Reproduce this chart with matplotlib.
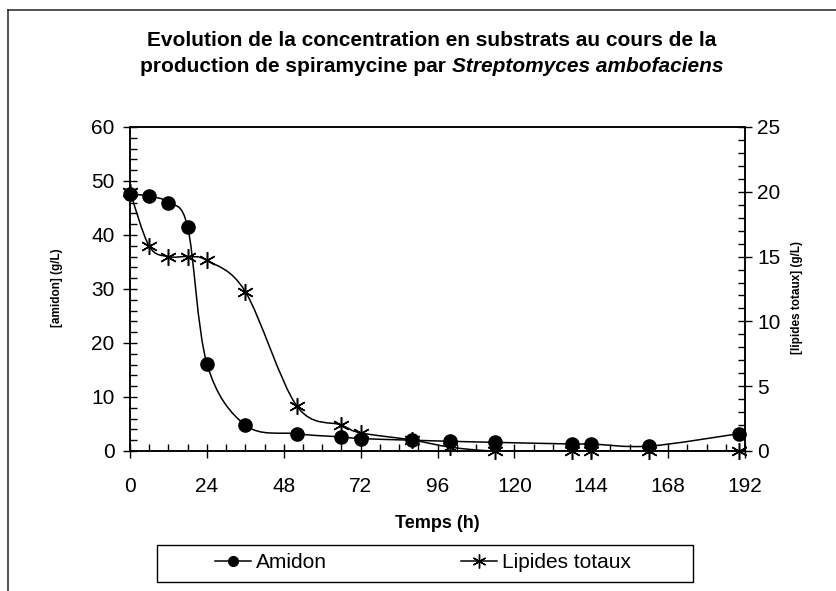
import numpy as np
import matplotlib
matplotlib.use('Agg')
import matplotlib.pyplot as plt
from matplotlib.path import Path
from matplotlib.patches import PathPatch, Rectangle
from matplotlib.lines import Line2D
from matplotlib.ticker import MultipleLocator

plt.rcParams['font.family'] = ['Liberation Sans', 'DejaVu Sans']

# time points (h)
temps = [0, 6, 12, 18, 24, 36, 52, 66, 72, 88, 100, 114, 138, 144, 162, 190]
# [amidon] g/L (left axis)
amidon = [47.6, 47.2, 46.0, 41.5, 16.2, 4.8, 3.2, 2.6, 2.3, 2.0, 1.8, 1.6, 1.3, 1.3, 0.9, 3.2]
# [lipides totaux] g/L (right axis)
lipides = [20.0, 15.8, 15.0, 15.0, 14.7, 12.3, 3.5, 2.0, 1.4, 0.85, 0.3, 0.0, 0.0, 0.0, 0.0, 0.0]

x_ticks = [0, 24, 48, 72, 96, 120, 144, 168, 192]
W, H = 836, 591


def smooth_path(x, y):
    # bezier path through the points, like the excel "smoothed line"
    pts = np.column_stack([x, y]).astype(float)
    n = len(pts)
    verts = [pts[0]]
    codes = [Path.MOVETO]
    for i in range(n - 1):
        p0 = pts[max(i - 1, 0)]
        p1 = pts[i]
        p2 = pts[i + 1]
        p3 = pts[min(i + 2, n - 1)]
        verts += [p1 + (p2 - p0) / 6, p2 - (p3 - p1) / 6, p2]
        codes += [Path.CURVE4] * 3
    return Path(verts, codes)


fig = plt.figure(figsize=(W / 100, H / 100), dpi=100)
ax = fig.add_axes([130 / W, 1 - 451 / H, 615 / W, 324 / H])
ax2 = ax.twinx()

ax.add_patch(PathPatch(smooth_path(temps, amidon), fill=False, lw=1.1, ec='black'))
ax.plot(temps, amidon, ls='none', marker='o', ms=9.5, color='black', clip_on=False, zorder=5)
ax2.add_patch(PathPatch(smooth_path(temps, lipides), fill=False, lw=1.1, ec='black'))
ax2.plot(temps, lipides, ls='none', marker=(6, 2, 0), ms=12, mew=1.1, color='black',
         clip_on=False, zorder=5)

ax.set_xlim(0, 192)
ax.set_ylim(0, 60)
ax2.set_ylim(0, 25)
ax.set_xticks(x_ticks)
ax.xaxis.set_minor_locator(MultipleLocator(6))
ax.yaxis.set_major_locator(MultipleLocator(10))
ax.yaxis.set_minor_locator(MultipleLocator(2))
ax2.yaxis.set_major_locator(MultipleLocator(5))
ax2.yaxis.set_minor_locator(MultipleLocator(1))

for a in (ax, ax2):
    for s in a.spines.values():
        s.set_linewidth(1.1)
ax.tick_params(axis='x', which='major', direction='inout', length=10, width=1,
               labelsize=15, pad=14)
ax.tick_params(axis='y', which='major', direction='inout', length=10, width=1,
               labelsize=15, pad=6)
ax.tick_params(which='minor', direction='in', length=5, width=1)
ax2.tick_params(axis='y', which='major', direction='inout', length=10, width=1,
                labelsize=15, pad=4)
ax2.tick_params(axis='y', which='minor', direction='in', length=5, width=1)

fig.text(57 / W, 1 - 288 / H, '[amidon] (g/L)', rotation=90, ha='center', va='center',
         fontsize=8.5, fontweight='bold')
fig.text(797 / W, 1 - 298 / H, '[lipides totaux] (g/L)', rotation=90, ha='center',
         va='center', fontsize=8.5, fontweight='bold')
fig.text(437 / W, 1 - 524 / H, 'Temps (h)', ha='center', va='center', fontsize=13,
         fontweight='bold')

# title, second line has the species name in italic
fig.text(432 / W, 1 - 41 / H, 'Evolution de la concentration en substrats au cours de la',
         ha='center', va='center', fontsize=15, fontweight='bold')
r = fig.canvas.get_renderer()
t1 = fig.text(0, 1 - 66 / H, 'production de spiramycine par ', ha='left', va='center',
              fontsize=15, fontweight='bold')
t2 = fig.text(0, 1 - 66 / H, 'Streptomyces ambofaciens', ha='left', va='center',
              fontsize=15, fontweight='bold', style='italic')
w1 = t1.get_window_extent(r).width
w2 = t2.get_window_extent(r).width
x0 = 432 - (w1 + w2) / 2
t1.set_x(x0 / W)
t2.set_x((x0 + w1) / W)

# legend box
fig.patches.append(Rectangle((157 / W, 1 - 582 / H), 536 / W, 37 / H, fill=False,
                             ec='black', lw=1, transform=fig.transFigure))
h1 = Line2D([], [], color='black', lw=1.1, marker='o', ms=7)
h2 = Line2D([], [], color='black', lw=1.1, marker=(6, 2, 0), ms=10, mew=1)
fig.legend([h1, h2], ['Amidon', 'Lipides totaux'], loc='center', ncol=2,
           bbox_to_anchor=(423 / W, 1 - 563 / H), frameon=False, fontsize=15,
           handlelength=1.75, handletextpad=0.25, columnspacing=6.4, numpoints=1,
           borderaxespad=0)

# outer frame of the scanned chart
fig.add_artist(Line2D([8 / W, 8 / W], [0, 1 - 10 / H], color='#333333', lw=1.2))
fig.add_artist(Line2D([8 / W, 1], [1 - 10 / H, 1 - 10 / H], color='#333333', lw=1.2))

fig.savefig('out.png', dpi=100)
